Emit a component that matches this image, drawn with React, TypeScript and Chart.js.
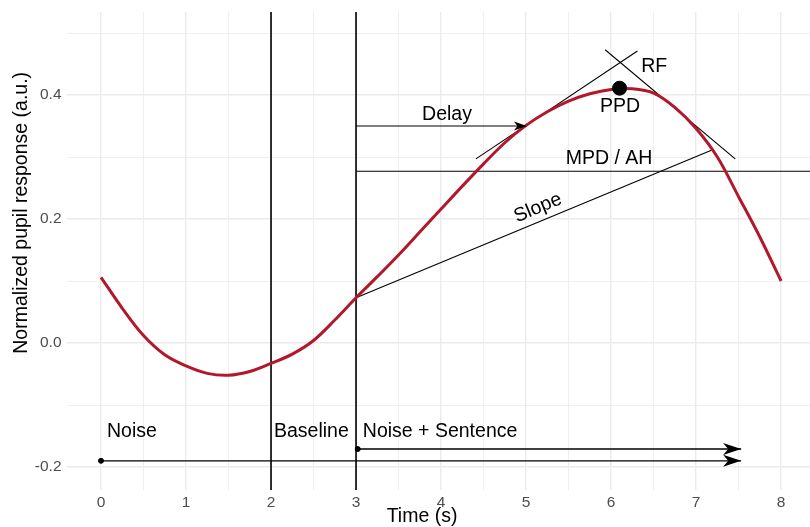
import React, { useEffect, useRef } from 'react';
import { Chart, registerables } from 'chart.js';

Chart.register(...registerables);

// ---- data ----
const TIME = [0, 0.25, 0.5, 0.75, 1, 1.25, 1.5, 1.75, 2, 2.25, 2.5, 2.75, 3, 3.25, 3.5, 3.75, 4, 4.25, 4.5, 4.75, 5, 5.25, 5.5, 5.75, 6, 6.25, 6.5, 6.75, 7, 7.25, 7.5, 7.75, 8];
const PUPIL = [0.106, 0.056, 0.012, -0.019, -0.037, -0.049, -0.052, -0.046, -0.033, -0.018, 0.004, 0.037, 0.073, 0.107, 0.142, 0.179, 0.216, 0.253, 0.289, 0.323, 0.351, 0.373, 0.39, 0.402, 0.409, 0.41, 0.403, 0.38, 0.346, 0.3, 0.236, 0.171, 0.1];

const X_MIN = -0.4;
const X_MAX = 8.34;
const Y_MIN = -0.2371;
const Y_MAX = 0.5339;

const X_GRID = [0, 0.5, 1, 1.5, 2, 2.5, 3, 3.5, 4, 4.5, 5, 5.5, 6, 6.5, 7, 7.5, 8];
const X_TICKS = [0, 1, 2, 3, 4, 5, 6, 7, 8];
const X_TICK_LABELS = ['0', '1', '2', '3', '4', '5', '6', '7', '8'];
const Y_GRID = [-0.2, -0.1, 0, 0.1, 0.2, 0.3, 0.4, 0.5];
const Y_TICKS = [-0.2, 0, 0.2, 0.4];
const Y_TICK_LABELS = ['-0.2', '0.0', '0.2', '0.4'];

const EPOCH_X = [2, 3];
const DELAY_X = [3, 5.01];
const DELAY_Y = 0.35;
const MPD_X = [3, 8.34];
const MPD_Y = 0.277;
const SLOPE_X = [3, 7.18];
const SLOPE_Y = [0.073, 0.311];
const RISE_TAN_X = [4.41, 6.31];
const RISE_TAN_Y = [0.297, 0.471];
const FALL_TAN_X = [5.93, 7.46];
const FALL_TAN_Y = [0.473, 0.297];
const PPD_X = 6.1;
const PPD_Y = 0.411;
const NOISE_ARROW_X = [0, 7.53];
const NOISE_ARROW_Y = -0.19;
const SENT_ARROW_X = [3.02, 7.53];
const SENT_ARROW_Y = -0.171;

const LABEL_TEXT = ['Delay', 'RF', 'PPD', 'MPD / AH', 'Noise', 'Baseline', 'Noise + Sentence'];
const LABEL_X = [4.07, 6.508, 6.106, 5.976, 0.07, 2.035, 3.08];
const LABEL_Y = [0.368, 0.445, 0.381, 0.297, -0.1435, -0.1435, -0.1435];
const LABEL_ALIGN: CanvasTextAlign[] = ['center', 'center', 'center', 'center', 'left', 'left', 'left'];
const SLOPE_LABEL = 'Slope';
const SLOPE_LABEL_X = 5.14;
const SLOPE_LABEL_Y = 0.218;

const X_TITLE = 'Time (s)';
const X_TITLE_AT = 3.776;
const Y_TITLE = 'Normalized pupil response (a.u.)';
const Y_TITLE_AT = 0.21;

const FONT = "'Liberation Sans', Arial, Helvetica, sans-serif";
const RED = '#B2182B';

const seg = (xs: number[], ys: number[]) => xs.map((v, i) => ({ x: v, y: ys[i] }));

const annotPlugin = {
  id: 'annot',
  afterDatasetsDraw(chart: any) {
    const { ctx, scales, chartArea } = chart;
    const xs = scales.x;
    const ys = scales.y;
    const px = (v: number) => xs.getPixelForValue(v);
    const py = (v: number) => ys.getPixelForValue(v);
    ctx.save();
    ctx.fillStyle = '#000';
    const head = (tx: number, ty: number, L: number, W: number, N: number) => {
      ctx.beginPath();
      ctx.moveTo(tx, ty);
      ctx.lineTo(tx - L, ty - W);
      ctx.lineTo(tx - L + N, ty);
      ctx.lineTo(tx - L, ty + W);
      ctx.closePath();
      ctx.fill();
    };
    head(px(DELAY_X[1]), py(DELAY_Y), 13, 4.5, 3.5);
    head(px(NOISE_ARROW_X[1]), py(NOISE_ARROW_Y), 18, 6, 5);
    head(px(SENT_ARROW_X[1]), py(SENT_ARROW_Y), 18, 6, 5);

    ctx.font = `19.5px ${FONT}`;
    ctx.textBaseline = 'middle';
    LABEL_TEXT.forEach((t, i) => {
      ctx.textAlign = LABEL_ALIGN[i];
      ctx.fillText(t, px(LABEL_X[i]), py(LABEL_Y[i]));
    });
    const ang = Math.atan2(py(SLOPE_Y[1]) - py(SLOPE_Y[0]), px(SLOPE_X[1]) - px(SLOPE_X[0]));
    ctx.save();
    ctx.translate(px(SLOPE_LABEL_X), py(SLOPE_LABEL_Y));
    ctx.rotate(ang);
    ctx.textAlign = 'center';
    ctx.fillText(SLOPE_LABEL, 0, 0);
    ctx.restore();

    ctx.textAlign = 'center';
    ctx.fillText(X_TITLE, px(X_TITLE_AT), chartArea.bottom + 27);
    ctx.save();
    ctx.translate(chartArea.left - 45, py(Y_TITLE_AT));
    ctx.rotate(-Math.PI / 2);
    ctx.fillText(Y_TITLE, 0, 0);
    ctx.restore();
    ctx.restore();
  },
};

const blackLine = (data: any[], width = 1, order = 3) => ({
  type: 'line' as const,
  data,
  borderColor: '#000',
  borderWidth: width,
  pointRadius: 0,
  fill: false,
  order,
});

export default function App() {
  const ref = useRef<HTMLCanvasElement>(null);
  useEffect(() => {
    document.body.style.margin = '0';
    const canvas = ref.current!;
    const chart = new Chart(canvas, {
      type: 'line',
      data: {
        datasets: [
          blackLine(seg([EPOCH_X[0], EPOCH_X[0]], [Y_MIN, Y_MAX]), 1.6, 4),
          blackLine(seg([EPOCH_X[1], EPOCH_X[1]], [Y_MIN, Y_MAX]), 1.6, 4),
          blackLine(seg(DELAY_X, [DELAY_Y, DELAY_Y]), 1.1),
          blackLine(seg(MPD_X, [MPD_Y, MPD_Y]), 1.1),
          blackLine(seg(SLOPE_X, SLOPE_Y), 1.1),
          blackLine(seg(RISE_TAN_X, RISE_TAN_Y), 1.1),
          blackLine(seg(FALL_TAN_X, FALL_TAN_Y), 1.1),
          blackLine(seg(NOISE_ARROW_X, [NOISE_ARROW_Y, NOISE_ARROW_Y]), 1.3),
          blackLine(seg(SENT_ARROW_X, [SENT_ARROW_Y, SENT_ARROW_Y]), 1.3),
          {
            type: 'line',
            data: seg(TIME, PUPIL),
            borderColor: RED,
            borderWidth: 3,
            pointRadius: 0,
            tension: 0.35,
            fill: false,
            order: 2,
          } as any,
          {
            type: 'line',
            showLine: false,
            data: [{ x: PPD_X, y: PPD_Y }],
            backgroundColor: '#000',
            borderColor: '#000',
            pointRadius: 7,
            order: 1,
          } as any,
          {
            type: 'line',
            showLine: false,
            data: [
              { x: NOISE_ARROW_X[0], y: NOISE_ARROW_Y },
              { x: SENT_ARROW_X[0], y: SENT_ARROW_Y },
            ],
            backgroundColor: '#000',
            borderColor: '#000',
            pointRadius: 2.5,
            order: 1,
          } as any,
        ] as any,
      },
      options: {
        animation: false,
        responsive: false,
        events: [],
        layout: { autoPadding: false, padding: { top: 12, right: 0, left: 0, bottom: 0 } },
        plugins: { legend: { display: false }, tooltip: { enabled: false } },
        scales: {
          x: {
            type: 'linear',
            min: X_MIN,
            max: X_MAX,
            afterBuildTicks: (s: any) => {
              s.ticks = X_GRID.map((v) => ({ value: v }));
            },
            afterFit: (s: any) => {
              s.height = 37;
              s.paddingLeft = 0;
              s.paddingRight = 0;
            },
            ticks: {
              autoSkip: false,
              maxRotation: 0,
              padding: 3,
              color: '#4d4d4d',
              font: { family: FONT, size: 15.5 },
              callback: (v: any) => {
                const i = X_TICKS.indexOf(Number(v));
                return i >= 0 ? X_TICK_LABELS[i] : '';
              },
            },
            grid: {
              drawTicks: false,
              color: '#ebebeb',
              lineWidth: (c: any) => (X_TICKS.includes(c.tick?.value) ? 1.4 : 0.8),
            },
            border: { display: false },
          },
          y: {
            type: 'linear',
            min: Y_MIN,
            max: Y_MAX,
            afterBuildTicks: (s: any) => {
              s.ticks = Y_GRID.map((v) => ({ value: v }));
            },
            afterFit: (s: any) => {
              s.width = 67;
              s.paddingTop = 0;
              s.paddingBottom = 0;
            },
            ticks: {
              autoSkip: false,
              padding: 5.5,
              color: '#4d4d4d',
              font: { family: FONT, size: 15.5 },
              callback: (v: any) => {
                const i = Y_TICKS.findIndex((t) => Math.abs(t - Number(v)) < 1e-9);
                return i >= 0 ? Y_TICK_LABELS[i] : '';
              },
            },
            grid: {
              drawTicks: false,
              color: '#ebebeb',
              lineWidth: (c: any) =>
                Y_TICKS.some((t) => Math.abs(t - c.tick?.value) < 1e-9) ? 1.4 : 0.8,
            },
            border: { display: false },
          },
        },
      },
      plugins: [annotPlugin],
    } as any);
    return () => chart.destroy();
  }, []);
  return (
    <div style={{ position: 'absolute', left: 0, top: 0, width: 810, height: 527 }}>
      <canvas ref={ref} width={810} height={527} style={{ width: 810, height: 527, display: 'block' }} />
    </div>
  );
}
